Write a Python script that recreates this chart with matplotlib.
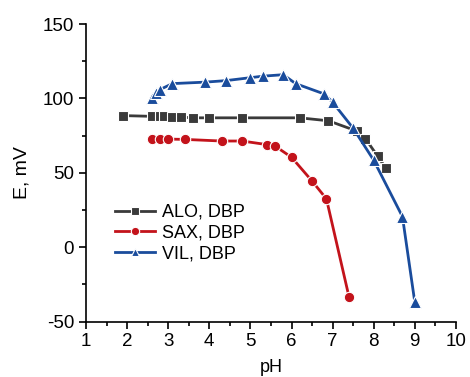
import matplotlib
matplotlib.use("Agg")
import matplotlib.pyplot as plt
from matplotlib.ticker import MultipleLocator

plt.rcParams['font.family'] = ['Liberation Sans', 'DejaVu Sans']
plt.rcParams['axes.unicode_minus'] = False

alo_ph = [1.9, 2.6, 2.8, 2.9, 3.1, 3.3, 3.6, 4.0, 4.8, 6.2, 6.9, 7.6, 7.8, 8.1, 8.3]
alo_e = [88.5, 88, 88, 88, 87.5, 87.5, 87, 87, 87, 87, 85, 78, 73, 61, 53]

sax_ph = [2.6, 2.8, 3.0, 3.4, 4.3, 4.8, 5.4, 5.6, 6.0, 6.5, 6.85, 7.4]
sax_e = [72.5, 72.5, 72.7, 72.5, 71.4, 71.4, 69, 68, 60.5, 44.5, 32.5, -33.5]

vil_ph = [2.6, 2.7, 2.8, 3.1, 3.9, 4.4, 5.0, 5.3, 5.8, 6.1, 6.8, 7.0, 7.5, 8.0, 8.7, 9.0]
vil_e = [100.5, 104, 106, 110, 111, 112, 114, 115, 116, 110, 103, 97.5, 80, 58.5, 20.5, -37]

fig = plt.figure(figsize=(4.7, 3.77), dpi=100)
ax = fig.add_axes([0.183, 0.147, 0.787, 0.789])

kw = dict(lw=2, markeredgecolor='white', markeredgewidth=0.8)
ax.plot(alo_ph, alo_e, '-s', color='#3a3a3a', ms=7, label='ALO, DBP', **kw)
ax.plot(sax_ph, sax_e, '-o', color='#c3131b', ms=7.5, label='SAX, DBP', **kw)
ax.plot(vil_ph, vil_e, '-^', color='#1a4c9c', ms=8.5, label='VIL, DBP', **kw)

ax.set_xlim(1, 10)
ax.set_ylim(-50, 150)
ax.xaxis.set_major_locator(MultipleLocator(1))
ax.xaxis.set_minor_locator(MultipleLocator(0.5))
ax.yaxis.set_major_locator(MultipleLocator(50))
ax.yaxis.set_minor_locator(MultipleLocator(25))
ax.spines['top'].set_visible(False)
ax.spines['right'].set_visible(False)
for s in ('left', 'bottom'):
    ax.spines[s].set_linewidth(1.2)
ax.tick_params(which='major', direction='out', length=5, width=1.2, labelsize=13.5)
ax.tick_params(which='minor', direction='out', length=3, width=1.2)
ax.set_xlabel('pH', fontsize=13, labelpad=6)
ax.set_ylabel('E, mV', fontsize=14, labelpad=9)

leg = ax.legend(loc='upper left', bbox_to_anchor=(0.06, 0.42), frameon=False,
                fontsize=13, handlelength=2.2, handletextpad=0.4,
                labelspacing=0.2, borderaxespad=0)
for h in leg.legend_handles:
    h.set_markersize(6)

fig.savefig('out.png', dpi=100)
